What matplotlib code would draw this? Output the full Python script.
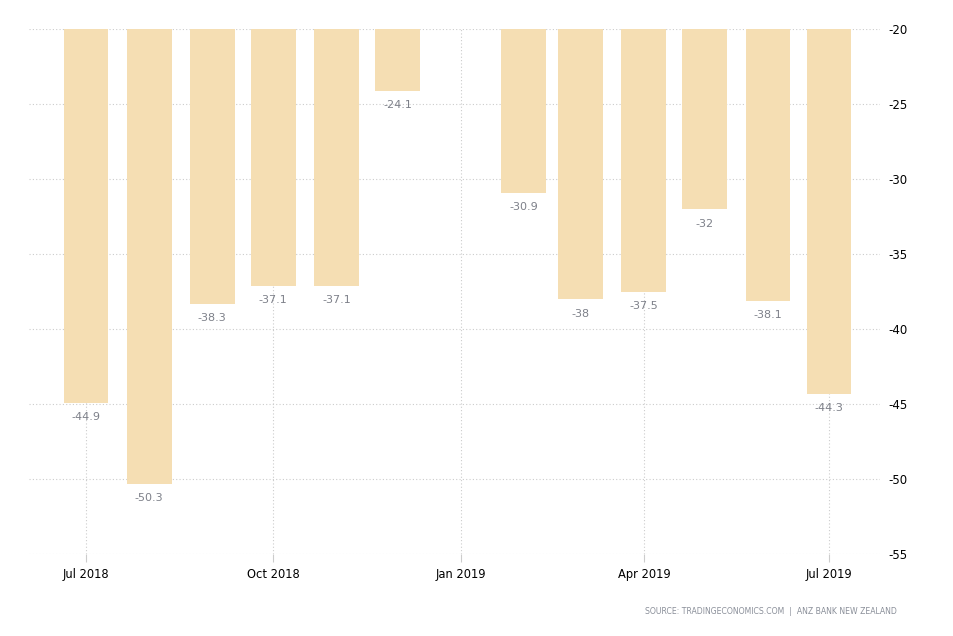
import matplotlib.pyplot as plt
import pandas as pd

plt.rcParams["axes.unicode_minus"] = False

# ANZ business confidence, monthly (Jan 2019 not released)
months = ["2018-07-01", "2018-08-01", "2018-09-01", "2018-10-01", "2018-11-01",
          "2018-12-01", "2019-02-01", "2019-03-01", "2019-04-01", "2019-05-01",
          "2019-06-01", "2019-07-01"]
values = [-44.9, -50.3, -38.3, -37.1, -37.1, -24.1, -30.9, -38, -37.5, -32,
          -38.1, -44.3]
value_labels = ["-44.9", "-50.3", "-38.3", "-37.1", "-37.1", "-24.1", "-30.9",
                "-38", "-37.5", "-32", "-38.1", "-44.3"]
tick_dates = ["2018-07-01", "2018-10-01", "2019-01-01", "2019-04-01", "2019-07-01"]
tick_labels = ["Jul 2018", "Oct 2018", "Jan 2019", "Apr 2019", "Jul 2019"]
y_ticks = [-20, -25, -30, -35, -40, -45, -50, -55]

dates = pd.to_datetime(months)
top = -20

fig = plt.figure(figsize=(9.54, 6.36), dpi=100)
ax = fig.add_axes([0.0304, 0.1289, 0.892, 0.8255])

heights = [v - top for v in values]
ax.bar(dates, heights, bottom=top, width=22, color="#f5deb3", zorder=2)

for d, v, lab in zip(dates, values, value_labels):
    ax.annotate(lab, (d, v), xytext=(0, -7), textcoords="offset points",
                ha="center", va="top", fontsize=8, color="#7d8089", zorder=3)

ax.set_ylim(-55, -20)
ax.set_xlim(pd.Timestamp("2018-06-03"), pd.Timestamp("2019-07-26"))

ax.set_xticks(pd.to_datetime(tick_dates))
ax.set_xticklabels(tick_labels)
ax.set_yticks(y_ticks)
ax.yaxis.tick_right()

ax.grid(True, color="#cccccc", linestyle=(0, (1, 2)), linewidth=0.8, zorder=0)
for s in ax.spines.values():
    s.set_visible(False)
ax.tick_params(axis="y", length=0, pad=6, labelsize=8.5, colors="black")
ax.tick_params(axis="x", length=6, color="#cccccc", labelsize=8.3, pad=4,
               labelcolor="black")

fig.text(0.94, 0.038, "SOURCE: TRADINGECONOMICS.COM  |  ANZ BANK NEW ZEALAND",
         ha="right", va="center", fontsize=5.6, color="#8a8f99")

fig.savefig("out.png", dpi=100)
